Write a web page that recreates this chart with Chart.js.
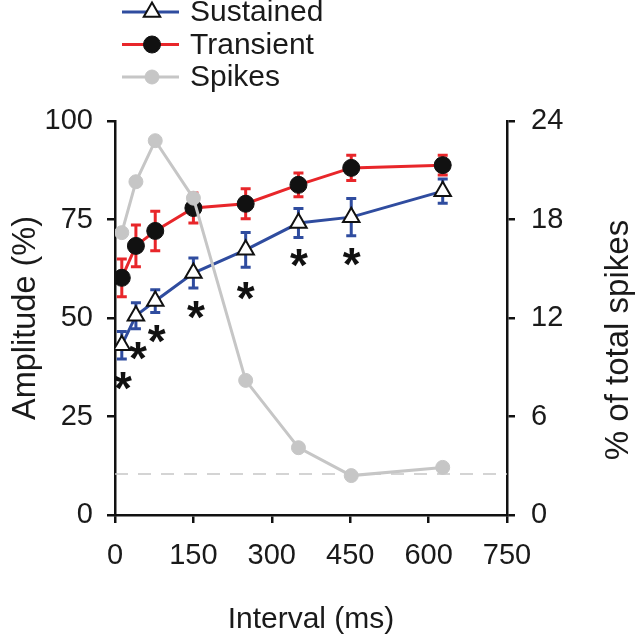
<!DOCTYPE html>
<html>
<head>
<meta charset="utf-8">
<script src="https://cdn.jsdelivr.net/npm/chart.js@4/dist/chart.umd.min.js"></script>
<style>
  body { margin: 0; background: #fff; }
  #chart { display: block; }
</style>
</head>
<body>
<canvas id="chart" width="635" height="640"></canvas>
<script>
// intervals (ms) shared by the three series
const intervals = [13, 40, 77, 150, 250, 351, 452, 627];

// amplitude (%) with SEM
const sustained = [43.1, 50.6, 54.3, 61.4, 67.3, 74.1, 75.6, 82.2];
const sustainedErr = [3.5, 3.3, 2.9, 3.8, 4.4, 3.7, 4.7, 3.1];
const transient = [60.2, 68.3, 72.1, 77.9, 79.0, 83.8, 88.1, 88.8];
const transientErr = [4.8, 5.3, 5.0, 3.8, 3.8, 3.0, 3.2, 2.5];

// % of total spikes (right axis)
const spikes = [17.2, 20.3, 22.8, 19.3, 8.2, 4.1, 2.4, 2.9];
const spikesBaseline = 2.5;

// significance marks (asterisks), in amplitude units
const starX = [15, 44, 80, 155, 250, 352, 453];
const starY = [34.8, 42.4, 46.7, 52.8, 57.6, 66.0, 66.2];

const xTicks = [0, 150, 300, 450, 600, 750];
const leftTicks = [0, 25, 50, 75, 100];
const rightTicks = [0, 6, 12, 18, 24];

const BLUE = '#2f4c9f';
const RED = '#e8262a';
const GREY = '#c6c6c6';
const INK = '#1a1a1a';
const FONT = '"Liberation Sans", Arial, sans-serif';

const toPoints = (ys) => ys.map((y, i) => ({ x: intervals[i], y }));

// error bars drawn just before each dataset so the markers sit on top
const errorBars = {
  id: 'errorBars',
  beforeDatasetDraw(chart, args) {
    const ds = chart.data.datasets[args.index];
    if (!ds.errors) return;
    const { ctx } = chart;
    const xs = chart.scales.x, ys = chart.scales[ds.yAxisID];
    ctx.save();
    ctx.strokeStyle = ds.borderColor;
    ctx.lineWidth = 3;
    ds.data.forEach((p, i) => {
      const e = ds.errors[i];
      const px = xs.getPixelForValue(p.x);
      const top = ys.getPixelForValue(p.y + e);
      const bot = ys.getPixelForValue(p.y - e);
      ctx.beginPath();
      ctx.moveTo(px, top); ctx.lineTo(px, bot);
      ctx.moveTo(px - 5, top); ctx.lineTo(px + 5, top);
      ctx.moveTo(px - 5, bot); ctx.lineTo(px + 5, bot);
      ctx.stroke();
    });
    ctx.restore();
  }
};

// dashed baseline of the spikes axis
const baseline = {
  id: 'baseline',
  beforeDatasetsDraw(chart) {
    const { ctx, chartArea } = chart;
    const y = chart.scales.y2.getPixelForValue(spikesBaseline);
    ctx.save();
    ctx.strokeStyle = GREY;
    ctx.lineWidth = 1.5;
    ctx.setLineDash([13, 10]);
    ctx.beginPath();
    ctx.moveTo(chartArea.left, y);
    ctx.lineTo(chartArea.right, y);
    ctx.stroke();
    ctx.restore();
  }
};

const asterisks = {
  id: 'asterisks',
  afterDatasetsDraw(chart) {
    const { ctx } = chart;
    const size = 46;
    ctx.save();
    ctx.fillStyle = '#111';
    ctx.font = `bold ${size}px ${FONT}`;
    ctx.textAlign = 'center';
    ctx.textBaseline = 'alphabetic';
    starX.forEach((x, i) => {
      const px = chart.scales.x.getPixelForValue(x);
      const py = chart.scales.y.getPixelForValue(starY[i]);
      ctx.fillText('*', px, py + size * 0.57);
    });
    ctx.restore();
  }
};

// right axis title, read bottom-to-top like the left one
const rightTitle = {
  id: 'rightTitle',
  afterDraw(chart) {
    const { ctx } = chart;
    ctx.save();
    ctx.translate(619, 340);
    ctx.rotate(-Math.PI / 2);
    ctx.fillStyle = INK;
    ctx.font = `33px ${FONT}`;
    ctx.textAlign = 'center';
    ctx.textBaseline = 'middle';
    ctx.fillText('% of total spikes', 0, 0);
    ctx.restore();
  }
};

// vertical legend at the top left: line with marker, then label
const sideLegend = {
  id: 'sideLegend',
  afterDraw(chart) {
    const { ctx } = chart;
    const order = [2, 1, 0];
    ctx.save();
    order.forEach((di, row) => {
      const ds = chart.data.datasets[di];
      const y = 12 + row * 32.5;
      ctx.strokeStyle = ds.borderColor;
      ctx.lineWidth = 3;
      ctx.beginPath();
      ctx.moveTo(122, y);
      ctx.lineTo(179, y);
      ctx.stroke();
      ctx.fillStyle = ds.pointBackgroundColor;
      ctx.strokeStyle = ds.pointBorderColor;
      ctx.lineWidth = ds.pointBorderWidth;
      Chart.helpers.drawPoint(ctx, {
        pointStyle: ds.pointStyle,
        radius: ds.pointRadius,
        rotation: 0,
        borderWidth: ds.pointBorderWidth
      }, 152, y);
      ctx.fillStyle = INK;
      ctx.font = `30px ${FONT}`;
      ctx.textAlign = 'left';
      ctx.textBaseline = 'middle';
      ctx.fillText(ds.label, 190, y + 1);
    });
    ctx.restore();
  }
};

const tickFont = { family: FONT, size: 29 };
const axisGrid = { drawOnChartArea: false, drawTicks: true, tickLength: 8, color: '#111', lineWidth: 2.5 };
const axisBorder = { display: true, color: '#111', width: 2.5 };

new Chart(document.getElementById('chart'), {
  type: 'line',
  data: {
    datasets: [
      {
        label: 'Spikes',
        data: toPoints(spikes),
        yAxisID: 'y2',
        borderColor: GREY,
        borderWidth: 3,
        pointStyle: 'circle',
        pointRadius: 7,
        pointBackgroundColor: GREY,
        pointBorderColor: GREY,
        pointBorderWidth: 1,
        tension: 0
      },
      {
        label: 'Transient',
        data: toPoints(transient),
        errors: transientErr,
        yAxisID: 'y',
        borderColor: RED,
        borderWidth: 3,
        pointStyle: 'circle',
        pointRadius: 8.5,
        pointBackgroundColor: '#111',
        pointBorderColor: '#111',
        pointBorderWidth: 1,
        tension: 0
      },
      {
        label: 'Sustained',
        data: toPoints(sustained),
        errors: sustainedErr,
        yAxisID: 'y',
        borderColor: BLUE,
        borderWidth: 3,
        pointStyle: 'triangle',
        pointRadius: 9.5,
        pointBackgroundColor: '#fff',
        pointBorderColor: '#111',
        pointBorderWidth: 2,
        tension: 0
      }
    ]
  },
  options: {
    responsive: false,
    animation: false,
    layout: { padding: { top: 121, left: 0, right: 0, bottom: 0 } },
    plugins: {
      legend: { display: false },
      tooltip: { enabled: false }
    },
    scales: {
      x: {
        type: 'linear',
        min: 0,
        max: 750,
        afterBuildTicks: (s) => { s.ticks = xTicks.map(v => ({ value: v })); },
        afterFit: (s) => { s.height = 125; },
        grid: axisGrid,
        border: axisBorder,
        ticks: { font: tickFont, color: INK, padding: 16, maxRotation: 0 },
        title: { display: true, text: 'Interval (ms)', font: { family: FONT, size: 30 }, color: INK, padding: { top: 0, bottom: 2 } }
      },
      y: {
        position: 'left',
        min: 0,
        max: 100,
        afterBuildTicks: (s) => { s.ticks = leftTicks.map(v => ({ value: v })); },
        afterFit: (s) => { s.width = 115; },
        grid: axisGrid,
        border: axisBorder,
        ticks: { font: tickFont, color: INK, padding: 14 },
        title: { display: true, text: 'Amplitude (%)', font: { family: FONT, size: 32.5 }, color: INK, padding: { top: 7, bottom: 0 } }
      },
      y2: {
        position: 'right',
        min: 0,
        max: 24,
        afterBuildTicks: (s) => { s.ticks = rightTicks.map(v => ({ value: v })); },
        afterFit: (s) => { s.width = 128; },
        grid: axisGrid,
        border: axisBorder,
        ticks: { font: tickFont, color: INK, padding: 16 },
        title: { display: false }
      }
    }
  },
  plugins: [baseline, errorBars, asterisks, rightTitle, sideLegend]
});
</script>
</body>
</html>
